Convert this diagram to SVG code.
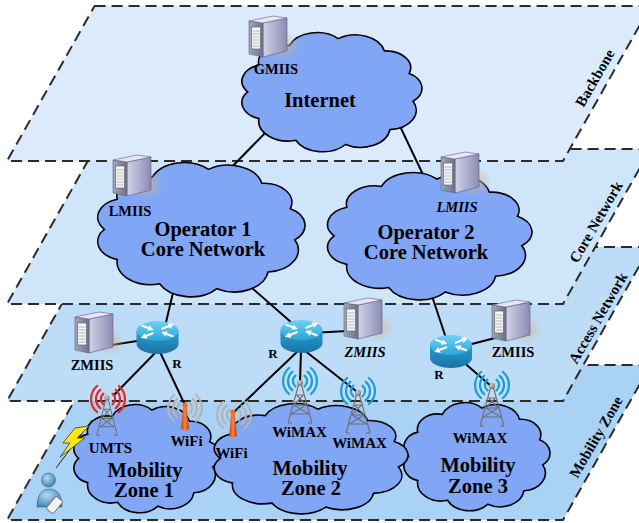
<svg xmlns="http://www.w3.org/2000/svg" xmlns:xlink="http://www.w3.org/1999/xlink" width="639" height="523" viewBox="0 0 639 523">
<style>
.layer{stroke:#2b2b2b;stroke-width:2;stroke-dasharray:11 6;}
.cloud{fill:#81a6f6;stroke:#000;stroke-width:1.6;}
.link line{stroke:#000;stroke-width:2;}
.t{font-family:"Liberation Serif","Times New Roman",serif;font-weight:bold;fill:#000;text-anchor:middle;}
.big{font-size:20.5px;}
.mid{font-size:15px;}
.sm{font-size:14.5px;}
.it{font-style:italic;}
.r{font-size:13px;}
.lay{font-size:15px;}
</style>
<defs>
  <linearGradient id="srvSide" x1="0" y1="0" x2="1" y2="0">
    <stop offset="0" stop-color="#d2d2ea"/><stop offset="1" stop-color="#8c8cb4"/>
  </linearGradient>
  <linearGradient id="srvFront" x1="0" y1="0" x2="1" y2="0">
    <stop offset="0" stop-color="#a6a6c0"/><stop offset="1" stop-color="#6f6f8c"/>
  </linearGradient>
  <radialGradient id="glow">
    <stop offset="0" stop-color="#cdb896" stop-opacity="0.75"/>
    <stop offset="1" stop-color="#cdb896" stop-opacity="0"/>
  </radialGradient>
  <linearGradient id="rtTop" x1="0" y1="0" x2="0" y2="1">
    <stop offset="0" stop-color="#6fd2f4"/><stop offset="1" stop-color="#2aa4dc"/>
  </linearGradient>
  <linearGradient id="rtSide" x1="0" y1="0" x2="0" y2="1">
    <stop offset="0" stop-color="#2a9cd0"/><stop offset="1" stop-color="#1a73a6"/>
  </linearGradient>
  <linearGradient id="antG" x1="0" y1="0" x2="1" y2="0">
    <stop offset="0" stop-color="#c63d08"/><stop offset="0.5" stop-color="#ff8536"/><stop offset="1" stop-color="#b83606"/>
  </linearGradient>
  <radialGradient id="personG" cx="0.4" cy="0.35" r="0.7">
    <stop offset="0" stop-color="#b4d8f2"/><stop offset="1" stop-color="#3f7fb6"/>
  </radialGradient>
  <radialGradient id="ballG" cx="0.4" cy="0.35" r="0.7">
    <stop offset="0" stop-color="#d0d0d0"/><stop offset="1" stop-color="#6a6a6a"/>
  </radialGradient>

  <marker id="wArrow" viewBox="0 0 6 6" refX="3" refY="3" markerWidth="3" markerHeight="3" orient="auto">
    <path d="M0,0L6,3L0,6Z" fill="#fff"/>
  </marker>

  <!-- generic cloud outline in a 100x100 box -->
  <path id="cloudShape" class="cloud" vector-effect="non-scaling-stroke"
    d="M7,52 A12.5,12.5 0 0 1 12.8,32 A12.8,12.8 0 0 1 28.5,17.4 A15.4,15.4 0 0 1 53.7,12.2 A15.4,15.4 0 0 1 77.6,21.4 A12.7,12.7 0 0 1 90.4,38.3 A12.5,12.5 0 0 1 92.4,59 A14.6,14.6 0 0 1 80.4,80.3 A15.2,15.2 0 0 1 57.5,91.4 A15.5,15.5 0 0 1 31.8,88.2 A15,15 0 0 1 12.8,72 A12.5,12.5 0 0 1 7,52 Z"/>

  <!-- tower PC server, 38x41 -->
  <g id="server">
    <ellipse cx="34" cy="30" rx="17" ry="15" fill="url(#glow)"/>
    <polygon points="14,7 38,2 38,35 14,41" fill="url(#srvSide)" stroke="#5e5e7e" stroke-width="0.6"/>
    <polygon points="0,5 14,7 14,41 0,38" fill="url(#srvFront)" stroke="#5e5e7e" stroke-width="0.6"/>
    <polygon points="0,5 24,0 38,2 14,7" fill="#e6e6f6" stroke="#5e5e7e" stroke-width="0.6"/>
    <rect x="2.5" y="11" width="9" height="22" fill="#f6f6fa" stroke="#555" stroke-width="0.6"/>
    <path d="M3.5,15h7M3.5,18h7M3.5,21h7M3.5,24h7M3.5,27h7M3.5,30h7" stroke="#9a9a9a" stroke-width="0.7"/>
    <circle cx="4" cy="36.5" r="1" fill="#33cc33"/>
  </g>

  <!-- router cylinder, origin at centre of top face -->
  <g id="router">
    <path d="M-21,0V13A21,10 0 0 0 21,13V0Z" fill="url(#rtSide)"/>
    <ellipse rx="21" ry="10" fill="url(#rtTop)"/>
    <g fill="none" stroke="#fff" stroke-width="2" marker-end="url(#wArrow)">
      <path d="M-16,-5.5L-6.5,-2"/>
      <path d="M16,5.5L6.5,2"/>
      <path d="M-4,2L-14,6"/>
      <path d="M4,-2L14,-6"/>
    </g>
  </g>

  <!-- lattice mast, origin at the top ball -->
  <g id="tower">
    <g fill="none" stroke="#6e6e6e" stroke-width="1.1">
      <path d="M-1.5,2L-12,40M1.5,2L12,40"/>
      <path d="M-3.5,12H3.5M-6.2,22H6.2M-8.8,31H8.8"/>
      <path d="M-3.5,12L6.2,22L-8.8,31M3.5,12L-6.2,22L8.8,31"/>
      <path d="M-12,40H-8M12,40H8"/>
    </g>
    <circle r="3" fill="url(#ballG)"/>
  </g>

  <!-- radio waves; colour comes from the referencing element -->
  <g id="waves" fill="none" stroke-width="2.2" stroke-linecap="round">
    <path d="M4.5,-5.4A7,7 0 0 1 4.5,5.4M7.7,-9.2A12,12 0 0 1 7.7,9.2M10.9,-13A17,17 0 0 1 10.9,13"/>
    <path d="M-4.5,-5.4A7,7 0 0 0 -4.5,5.4M-7.7,-9.2A12,12 0 0 0 -7.7,9.2M-10.9,-13A17,17 0 0 0 -10.9,13"/>
  </g>

  <!-- WiFi antenna, origin at the top ball -->
  <g id="wifiAnt">
    <path d="M-1.6,1L1.6,1L4,24Q0,26.5 -4,24Z" fill="url(#antG)"/>
    <circle r="2.6" fill="#f06a20"/>
  </g>
</defs>

<rect width="639" height="523" fill="#fff"/>

<!-- stacked planes, lowest first -->
<g id="layers">
  <polygon id="mobility-plane" class="layer" points="94.6,365 650.6,365 563,520 7,520" fill="#a9d2f5"/>
  <polygon id="access-plane" class="layer" points="94,247 650,247 563,401 7,401" fill="#bddcf8"/>
  <polygon id="core-plane" class="layer" points="94.6,149 650.6,149 563,304 7,304" fill="#cee5fa"/>
  <polygon id="backbone-plane" class="layer" points="94.6,6 650.6,6 563,161 7,161" fill="#dcebfc"/>
</g>

<g id="layer-labels" class="t lay">
  <text transform="translate(595,78) rotate(-60)" y="5">Backbone</text>
  <text transform="translate(596,222) rotate(-60)" y="5">Core Network</text>
  <text transform="translate(598,318) rotate(-60)" y="5">Access Network</text>
  <text transform="translate(596,437) rotate(-60)" y="5">Mobility Zone</text>
</g>

<g id="connectors" class="link">
  <line x1="270" y1="128" x2="224" y2="175"/>
  <line x1="398" y1="122" x2="427" y2="183"/>
  <line x1="176" y1="280" x2="163" y2="335"/>
  <line x1="244" y1="281" x2="300" y2="330"/>
  <line x1="430" y1="290" x2="449" y2="347"/>
  <line x1="105" y1="346" x2="150" y2="339"/>
  <line x1="310" y1="333" x2="348" y2="331"/>
  <line x1="460" y1="347" x2="499" y2="337"/>
  <line x1="156" y1="352" x2="114" y2="395"/>
  <line x1="160" y1="352" x2="185" y2="405"/>
  <line x1="299" y1="350" x2="234" y2="412"/>
  <line x1="301" y1="350" x2="300" y2="383"/>
  <line x1="304" y1="350" x2="356" y2="391"/>
  <line x1="461" y1="360" x2="491" y2="386"/>
</g>

<g id="internet">
  <use href="#cloudShape" transform="translate(234.1,22.3) scale(1.937,1.337)"/>
  <text class="t big" x="320" y="107">Internet</text>
</g>
<g id="operator1">
  <use href="#cloudShape" transform="translate(88.7,151) scale(2.23,1.506)"/>
  <text class="t big" x="203" y="236">Operator 1</text>
  <text class="t big" x="203" y="256">Core Network</text>
</g>
<g id="operator2">
  <use href="#cloudShape" transform="translate(318.7,161.6) scale(2.199,1.427)"/>
  <text class="t big" x="426" y="239">Operator 2</text>
  <text class="t big" x="426" y="259">Core Network</text>
</g>
<g id="zone1">
  <use href="#cloudShape" transform="translate(67.6,395.3) scale(1.571,1.213)"/>
  <text class="t big" x="145" y="477">Mobility</text>
  <text class="t big" x="144" y="497">Zone 1</text>
</g>
<g id="zone3">
  <use href="#cloudShape" transform="translate(397.6,393.3) scale(1.571,1.213)"/>
  <text class="t big" x="478" y="472">Mobility</text>
  <text class="t big" x="478" y="493">Zone 3</text>
</g>
<g id="zone2">
  <use href="#cloudShape" transform="translate(205.9,394.1) scale(2.084,1.236)"/>
  <text class="t big" x="310" y="475">Mobility</text>
  <text class="t big" x="311" y="495">Zone 2</text>
</g>

<g id="gmiis">
  <use href="#server" x="249" y="16"/>
  <text class="t sm" x="276" y="74">GMIIS</text>
</g>
<g id="lmiis1">
  <use href="#server" x="113" y="155"/>
  <text class="t sm" x="130" y="216">LMIIS</text>
</g>
<g id="lmiis2">
  <use href="#server" x="441" y="152"/>
  <text class="t sm it" x="457" y="212">LMIIS</text>
</g>
<g id="zmiis1">
  <use href="#server" x="75" y="312"/>
  <text class="t sm" x="92" y="370">ZMIIS</text>
</g>
<g id="zmiis2">
  <use href="#server" x="344" y="298"/>
  <text class="t sm it" x="365" y="357">ZMIIS</text>
</g>
<g id="zmiis3">
  <use href="#server" x="492" y="300"/>
  <text class="t sm" x="513" y="357">ZMIIS</text>
</g>

<g id="router1">
  <use href="#router" x="157.5" y="331"/>
  <text class="t r" x="177" y="368">R</text>
</g>
<g id="router2">
  <use href="#router" x="301.5" y="330"/>
  <text class="t r" x="273" y="358">R</text>
</g>
<g id="router3">
  <use href="#router" x="451" y="345"/>
  <text class="t r" x="439" y="379">R</text>
</g>

<g id="umts">
  <use href="#tower" transform="translate(107,398) scale(0.85,0.93)"/>
  <use href="#waves" x="108" y="399" stroke="#e3262a"/>
  <text class="t mid" x="110.5" y="453">UMTS</text>
</g>
<g id="wifi1">
  <use href="#waves" x="185" y="408" stroke="#b4b4b4"/>
  <use href="#wifiAnt" x="185" y="405"/>
  <text class="t mid" x="186.5" y="446">WiFi</text>
</g>
<g id="wifi2">
  <use href="#waves" x="234" y="415" stroke="#b4b4b4"/>
  <use href="#wifiAnt" x="233" y="412"/>
  <text class="t mid" x="231.5" y="458">WiFi</text>
</g>
<g id="wimax1">
  <use href="#tower" x="300" y="383"/>
  <use href="#waves" x="300" y="381" stroke="#1c9dd0"/>
  <text class="t mid" x="299.5" y="437">WiMAX</text>
</g>
<g id="wimax2">
  <use href="#tower" x="358" y="393"/>
  <use href="#waves" x="358" y="391" stroke="#1c9dd0"/>
  <text class="t mid" x="359.5" y="448">WiMAX</text>
</g>
<g id="wimax3">
  <use href="#tower" x="492" y="386"/>
  <use href="#waves" x="492" y="385" stroke="#1c9dd0"/>
  <text class="t mid" x="480" y="443">WiMAX</text>
</g>

<g id="user">
  <line x1="56" y1="468" x2="92" y2="420" stroke="#222" stroke-width="1"/>
  <polygon points="75,428 89,426 77,438 85,438 60,457 70,443 63,443" fill="#ffe810" stroke="#3a3a3a" stroke-width="0.8"/>
  <path d="M37,507Q37,489 49.5,489Q62,489 62,507Z" fill="url(#personG)" stroke="#2f5f8c" stroke-width="0.6"/>
  <circle cx="48.5" cy="480" r="7" fill="url(#personG)" stroke="#2f5f8c" stroke-width="0.6"/>
  <rect x="50" y="497" width="9" height="16" rx="1.5" transform="rotate(40 54.5 505)" fill="#f2f2f2" stroke="#555" stroke-width="0.8"/>
</g>
</svg>
